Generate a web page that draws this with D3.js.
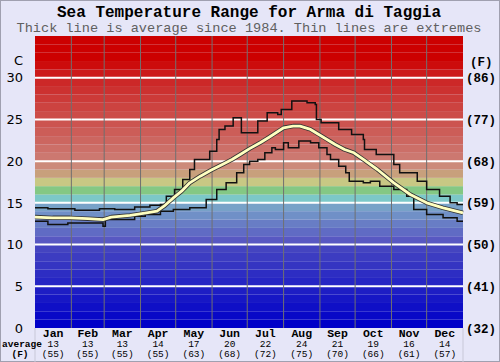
<!DOCTYPE html>
<html>
  <head>
    <meta charset="utf-8">
    <title>Sea Temperature Range for Arma di Taggia</title>
    <style>
      body { margin: 0; background: #e6e6f8; }
      svg { display: block; }
    </style>
  </head>
  <body>
    <script src="https://cdn.jsdelivr.net/npm/d3@7"></script>
    <script>
      // data (day of year, degrees C)
      var months = ["Jan", "Feb", "Mar", "Apr", "May", "Jun", "Jul", "Aug", "Sep", "Oct", "Nov", "Dec"];
      var monthDays = [31, 28, 31, 30, 31, 30, 31, 31, 30, 31, 30, 31];
      var avgC = [13, 13, 13, 14, 17, 20, 22, 24, 21, 19, 16, 14];
      var avgF = [55, 55, 55, 55, 63, 68, 72, 75, 70, 66, 61, 57];
      var cTicks = [0, 5, 10, 15, 20, 25, 30];

      var maxLine = [
        [0, 14.4], [11, 14.3], [34, 14.1], [55, 14.3], [68, 14.2], [85, 14.5], [98, 14.7],
        [107, 14.8], [112, 15.8], [119, 16.6], [126, 17.8], [132, 19.0], [136, 20.2],
        [149, 21.2], [155, 22.6], [157, 23.8], [162, 24.2], [169, 25.2], [176, 23.4],
        [190, 24.8], [198, 25.8], [207, 25.6], [210, 26.2], [219, 27.2], [232, 27.0],
        [239, 26.8], [240, 25.0], [244, 24.6], [259, 23.8], [270, 23.2], [280, 22.6],
        [281, 21.4], [291, 20.8], [306, 19.6], [311, 18.6], [326, 17.6], [334, 16.6],
        [345, 15.8], [354, 15.0], [360, 14.8], [365, 14.8]
      ];
      var avgLine = [
        [0, 13.3], [15, 13.2], [30, 13.2], [45, 13.1], [58, 13.0], [65, 13.3], [81, 13.5],
        [95, 13.8], [104, 14.0], [110, 14.6], [118, 15.6], [125, 16.4], [132, 17.4],
        [141, 18.2], [150, 18.9], [161, 19.7], [168, 20.2], [175, 20.8], [183, 21.5],
        [192, 22.2], [200, 22.9], [212, 24.0], [220, 24.2], [226, 24.2], [235, 23.8],
        [242, 23.2], [249, 22.6], [256, 22.0], [264, 21.4], [272, 21.0], [280, 20.2],
        [292, 19.0], [306, 17.4], [320, 16.0], [334, 15.0], [348, 14.4], [365, 13.8]
      ];
      var minLine = [
        [0, 12.8], [11, 12.4], [28, 12.6], [57, 12.6], [58, 12.2], [60, 13.0], [85, 13.4],
        [94, 13.6], [107, 14.0], [118, 14.2], [132, 14.4], [146, 15.4], [155, 16.6],
        [163, 17.4], [172, 18.6], [178, 19.6], [183, 20.0], [190, 20.2], [196, 21.0],
        [202, 21.6], [205, 21.4], [212, 22.2], [216, 21.6], [225, 22.4], [235, 22.2],
        [242, 21.6], [249, 20.8], [252, 20.2], [259, 19.4], [265, 18.6], [268, 17.6],
        [280, 17.4], [286, 17.6], [294, 17.0], [306, 16.6], [317, 15.8], [323, 14.2],
        [334, 13.6], [348, 13.2], [360, 12.8], [365, 12.8]
      ];

      var width = 500, height = 362;
      var plotLeft = 35, plotRight = 463, plotTop = 36, plotBottom = 328;

      var svg = d3.select("body").append("svg")
        .attr("width", width)
        .attr("height", height);

      svg.append("rect")
        .attr("x", 0.5).attr("y", 0.5)
        .attr("width", width - 1).attr("height", height - 1)
        .attr("fill", "#e6e6f8")
        .attr("stroke", "#a0a0b0");

      var x = d3.scaleLinear().domain([0, 365]).range([plotLeft, plotRight]);
      var y = d3.scaleLinear().domain([0, 35]).range([plotBottom, plotTop]);

      // colour of each 1 degree band
      var bandColor = d3.scaleLinear()
        .domain([0, 9, 10, 14, 15, 16, 17, 18, 19, 20, 29, 30, 31, 32, 35])
        .range(["#0000c8", "#4444c0", "#5858c2", "#78a2c8", "#7cc8c8", "#84c884", "#c8c884",
                "#c8a07c", "#cc8a7a", "#cc7870", "#cc2828", "#cc1a1a", "#cc0c0c", "#cc0000", "#cc0000"]);

      svg.append("g")
        .selectAll("rect")
        .data(d3.range(0, 35))
        .join("rect")
        .attr("x", plotLeft)
        .attr("width", plotRight - plotLeft)
        .attr("y", d => y(d + 1))
        .attr("height", d => y(d) - y(d + 1))
        .attr("fill", d => bandColor(d));

      // white lines every 5 degrees
      svg.append("g")
        .selectAll("line")
        .data(cTicks.filter(d => d > 0))
        .join("line")
        .attr("x1", plotLeft).attr("x2", plotRight)
        .attr("y1", d => y(d)).attr("y2", d => y(d))
        .attr("stroke", "#ffffff")
        .attr("stroke-width", 2);

      // month starts
      var monthStart = [0];
      monthDays.forEach(function(d, i) { monthStart.push(monthStart[i] + d); });

      svg.append("g")
        .selectAll("line")
        .data(monthStart.slice(1, 12))
        .join("line")
        .attr("x1", d => x(d)).attr("x2", d => x(d))
        .attr("y1", plotTop).attr("y2", plotBottom)
        .attr("stroke", "#707070")
        .attr("stroke-width", 1);

      svg.append("g")
        .selectAll("line")
        .data([0, 365])
        .join("line")
        .attr("x1", d => x(d)).attr("x2", d => x(d))
        .attr("y1", plotBottom).attr("y2", height)
        .attr("stroke", "#c8c8d8");

      var line = d3.line().x(d => x(d[0])).y(d => y(d[1]));
      var stepLine = d3.line().x(d => x(d[0])).y(d => y(d[1])).curve(d3.curveStepAfter);

      svg.append("path")
        .attr("d", stepLine(maxLine))
        .attr("fill", "none")
        .attr("stroke", "#111")
        .attr("stroke-width", 1.5);

      svg.append("path")
        .attr("d", stepLine(minLine))
        .attr("fill", "none")
        .attr("stroke", "#111")
        .attr("stroke-width", 1.5);

      svg.append("path")
        .attr("d", line(avgLine))
        .attr("fill", "none")
        .attr("stroke", "#333")
        .attr("stroke-width", 4.5)
        .attr("stroke-linejoin", "round");

      svg.append("path")
        .attr("d", line(avgLine))
        .attr("fill", "none")
        .attr("stroke", "#ffffc0")
        .attr("stroke-width", 2.8)
        .attr("stroke-linejoin", "round");

      // titles
      var mono = "'Liberation Mono', 'DejaVu Sans Mono', monospace";

      svg.append("text")
        .attr("x", 249).attr("y", 17)
        .attr("text-anchor", "middle")
        .style("font-family", mono)
        .style("font-weight", "bold")
        .style("font-size", "16px")
        .text("Sea Temperature Range for Arma di Taggia");

      svg.append("text")
        .attr("x", 249).attr("y", 31.5)
        .attr("text-anchor", "middle")
        .style("font-family", mono)
        .style("font-size", "13.6px")
        .style("fill", "#606060")
        .text("Thick line is average since 1984. Thin lines are extremes");

      // left axis in C
      var leftAxis = svg.append("g")
        .attr("transform", "translate(23,0)")
        .call(d3.axisLeft(y).tickValues(cTicks).tickSize(0).tickPadding(0));
      leftAxis.select(".domain").remove();
      leftAxis.selectAll("text")
        .style("font-family", "'DejaVu Sans', Verdana, sans-serif")
        .style("font-size", "13px")
        .style("fill", "#000");

      svg.append("text")
        .attr("x", 23).attr("y", y(32.1)).attr("dy", "0.35em")
        .attr("text-anchor", "end")
        .style("font-family", "'DejaVu Sans', Verdana, sans-serif")
        .style("font-size", "13px")
        .text("C");

      // right axis in F
      var rightAxis = svg.append("g")
        .attr("transform", "translate(466,0)")
        .call(d3.axisRight(y).tickValues(cTicks).tickSize(0).tickPadding(0)
          .tickFormat(d => "(" + Math.round(d * 9 / 5 + 32) + ")"));
      rightAxis.select(".domain").remove();
      rightAxis.selectAll("text")
        .style("font-family", mono)
        .style("font-weight", "bold")
        .style("font-size", "12.5px")
        .style("fill", "#000");

      svg.append("text")
        .attr("x", 470).attr("y", y(31.9)).attr("dy", "0.35em")
        .style("font-family", mono)
        .style("font-weight", "bold")
        .style("font-size", "12.5px")
        .text("(F)");

      // month labels with averages
      var mid = function(i) { return x(monthStart[i] + monthDays[i] / 2); };

      var labels = svg.append("g");
      labels.selectAll(".month")
        .data(months)
        .join("text")
        .attr("x", (d, i) => mid(i)).attr("y", 337)
        .attr("text-anchor", "middle")
        .style("font-family", mono).style("font-weight", "bold").style("font-size", "11.5px")
        .text(d => d);

      labels.selectAll(".avgc")
        .data(avgC)
        .join("text")
        .attr("x", (d, i) => mid(i)).attr("y", 347)
        .attr("text-anchor", "middle")
        .style("font-family", mono).style("font-size", "9.5px")
        .text(d => d);

      labels.selectAll(".avgf")
        .data(avgF)
        .join("text")
        .attr("x", (d, i) => mid(i)).attr("y", 356.5)
        .attr("text-anchor", "middle")
        .style("font-family", mono).style("font-size", "9.5px")
        .text(d => "(" + d + ")");

      svg.append("text")
        .attr("x", 22).attr("y", 347)
        .attr("text-anchor", "middle")
        .style("font-family", mono).style("font-weight", "bold").style("font-size", "9.5px")
        .text("average");

      svg.append("text")
        .attr("x", 20).attr("y", 356.5)
        .attr("text-anchor", "middle")
        .style("font-family", mono).style("font-weight", "bold").style("font-size", "9.5px")
        .text("(F)");
    </script>
  </body>
</html>
